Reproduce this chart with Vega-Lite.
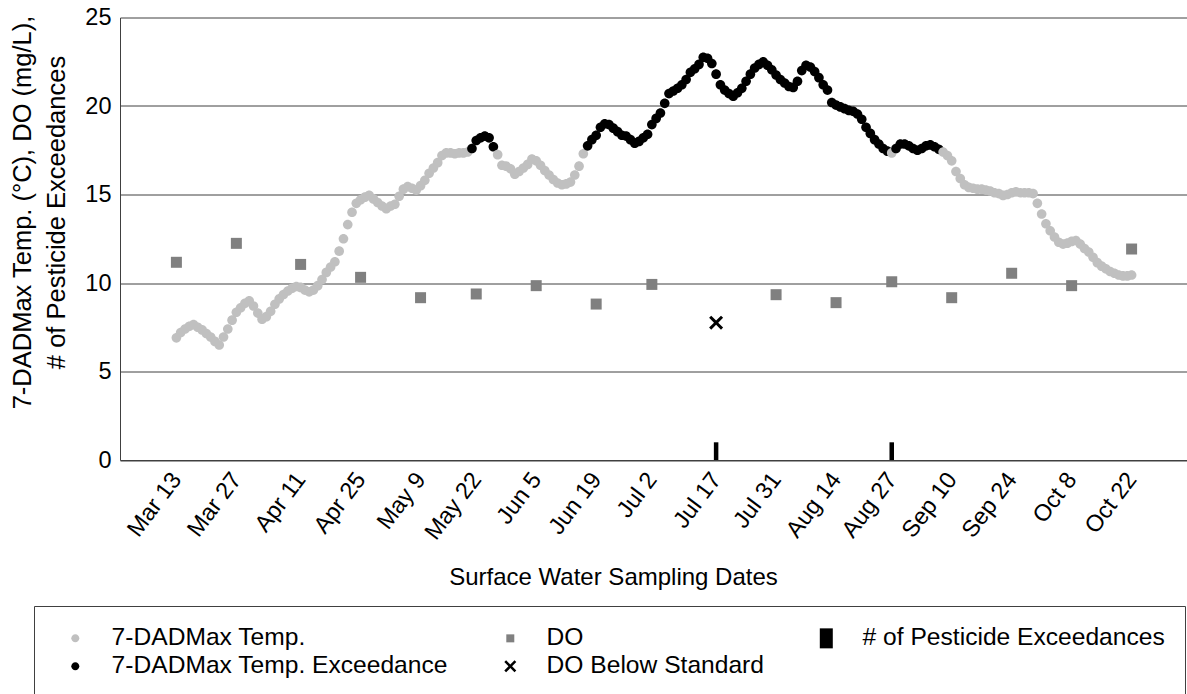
{
  "$schema": "https://vega.github.io/schema/vega-lite/v6.json",
  "width": 1068,
  "height": 442.5,
  "autosize": "none",
  "padding": {"left": 120, "top": 17.5, "right": 0, "bottom": 234},
  "background": "white",
  "config": {
    "view": {"stroke": null},
    "font": "Liberation Sans",
    "axis": {"labelFont": "Liberation Sans", "titleFont": "Liberation Sans", "labelColor": "black", "titleColor": "black", "titleFontWeight": "normal", "domainColor": "#404040", "gridColor": "#404040", "ticks": false, "tickSize": 0},
    "legend": {
      "orient": "none", "direction": "horizontal", "legendX": -86, "legendY": 588.5, "columns": 3, "columnPadding": 41, "rowPadding": 3, "padding": 20,
      "strokeColor": "#404040", "labelFont": "Liberation Sans", "labelFontSize": 24.6, "labelColor": "black", "labelLimit": 600,
      "labelOffset": 24, "symbolSize": 400, "symbolOffset": 9, "symbolStrokeWidth": 0, "symbolOpacity": 1
    }
  },
  "datasets": {
    "temp": [
      {"date":"2019-03-13","v":6.9,"s":"7-DADMax Temp."},
      {"date":"2019-03-14","v":7.2,"s":"7-DADMax Temp."},
      {"date":"2019-03-15","v":7.4,"s":"7-DADMax Temp."},
      {"date":"2019-03-16","v":7.55,"s":"7-DADMax Temp."},
      {"date":"2019-03-17","v":7.65,"s":"7-DADMax Temp."},
      {"date":"2019-03-18","v":7.5,"s":"7-DADMax Temp."},
      {"date":"2019-03-19","v":7.35,"s":"7-DADMax Temp."},
      {"date":"2019-03-20","v":7.15,"s":"7-DADMax Temp."},
      {"date":"2019-03-21","v":6.95,"s":"7-DADMax Temp."},
      {"date":"2019-03-22","v":6.7,"s":"7-DADMax Temp."},
      {"date":"2019-03-23","v":6.5,"s":"7-DADMax Temp."},
      {"date":"2019-03-24","v":6.95,"s":"7-DADMax Temp."},
      {"date":"2019-03-25","v":7.4,"s":"7-DADMax Temp."},
      {"date":"2019-03-26","v":7.9,"s":"7-DADMax Temp."},
      {"date":"2019-03-27","v":8.35,"s":"7-DADMax Temp."},
      {"date":"2019-03-28","v":8.6,"s":"7-DADMax Temp."},
      {"date":"2019-03-29","v":8.85,"s":"7-DADMax Temp."},
      {"date":"2019-03-30","v":9.0,"s":"7-DADMax Temp."},
      {"date":"2019-03-31","v":8.7,"s":"7-DADMax Temp."},
      {"date":"2019-04-01","v":8.3,"s":"7-DADMax Temp."},
      {"date":"2019-04-02","v":7.95,"s":"7-DADMax Temp."},
      {"date":"2019-04-03","v":8.1,"s":"7-DADMax Temp."},
      {"date":"2019-04-04","v":8.4,"s":"7-DADMax Temp."},
      {"date":"2019-04-05","v":8.8,"s":"7-DADMax Temp."},
      {"date":"2019-04-06","v":9.1,"s":"7-DADMax Temp."},
      {"date":"2019-04-07","v":9.35,"s":"7-DADMax Temp."},
      {"date":"2019-04-08","v":9.55,"s":"7-DADMax Temp."},
      {"date":"2019-04-09","v":9.7,"s":"7-DADMax Temp."},
      {"date":"2019-04-10","v":9.8,"s":"7-DADMax Temp."},
      {"date":"2019-04-11","v":9.75,"s":"7-DADMax Temp."},
      {"date":"2019-04-12","v":9.6,"s":"7-DADMax Temp."},
      {"date":"2019-04-13","v":9.5,"s":"7-DADMax Temp."},
      {"date":"2019-04-14","v":9.6,"s":"7-DADMax Temp."},
      {"date":"2019-04-15","v":9.85,"s":"7-DADMax Temp."},
      {"date":"2019-04-16","v":10.2,"s":"7-DADMax Temp."},
      {"date":"2019-04-17","v":10.6,"s":"7-DADMax Temp."},
      {"date":"2019-04-18","v":10.9,"s":"7-DADMax Temp."},
      {"date":"2019-04-19","v":11.2,"s":"7-DADMax Temp."},
      {"date":"2019-04-20","v":11.8,"s":"7-DADMax Temp."},
      {"date":"2019-04-21","v":12.5,"s":"7-DADMax Temp."},
      {"date":"2019-04-22","v":13.3,"s":"7-DADMax Temp."},
      {"date":"2019-04-23","v":14.0,"s":"7-DADMax Temp."},
      {"date":"2019-04-24","v":14.5,"s":"7-DADMax Temp."},
      {"date":"2019-04-25","v":14.7,"s":"7-DADMax Temp."},
      {"date":"2019-04-26","v":14.85,"s":"7-DADMax Temp."},
      {"date":"2019-04-27","v":14.95,"s":"7-DADMax Temp."},
      {"date":"2019-04-28","v":14.75,"s":"7-DADMax Temp."},
      {"date":"2019-04-29","v":14.55,"s":"7-DADMax Temp."},
      {"date":"2019-04-30","v":14.35,"s":"7-DADMax Temp."},
      {"date":"2019-05-01","v":14.2,"s":"7-DADMax Temp."},
      {"date":"2019-05-02","v":14.35,"s":"7-DADMax Temp."},
      {"date":"2019-05-03","v":14.45,"s":"7-DADMax Temp."},
      {"date":"2019-05-04","v":14.9,"s":"7-DADMax Temp."},
      {"date":"2019-05-05","v":15.3,"s":"7-DADMax Temp."},
      {"date":"2019-05-06","v":15.45,"s":"7-DADMax Temp."},
      {"date":"2019-05-07","v":15.35,"s":"7-DADMax Temp."},
      {"date":"2019-05-08","v":15.25,"s":"7-DADMax Temp."},
      {"date":"2019-05-09","v":15.5,"s":"7-DADMax Temp."},
      {"date":"2019-05-10","v":15.8,"s":"7-DADMax Temp."},
      {"date":"2019-05-11","v":16.2,"s":"7-DADMax Temp."},
      {"date":"2019-05-12","v":16.5,"s":"7-DADMax Temp."},
      {"date":"2019-05-13","v":16.8,"s":"7-DADMax Temp."},
      {"date":"2019-05-14","v":17.2,"s":"7-DADMax Temp."},
      {"date":"2019-05-15","v":17.35,"s":"7-DADMax Temp."},
      {"date":"2019-05-16","v":17.35,"s":"7-DADMax Temp."},
      {"date":"2019-05-17","v":17.3,"s":"7-DADMax Temp."},
      {"date":"2019-05-18","v":17.35,"s":"7-DADMax Temp."},
      {"date":"2019-05-19","v":17.35,"s":"7-DADMax Temp."},
      {"date":"2019-05-20","v":17.4,"s":"7-DADMax Temp."},
      {"date":"2019-05-21","v":17.6,"s":"7-DADMax Temp. Exceedance"},
      {"date":"2019-05-22","v":18.05,"s":"7-DADMax Temp. Exceedance"},
      {"date":"2019-05-23","v":18.2,"s":"7-DADMax Temp. Exceedance"},
      {"date":"2019-05-24","v":18.3,"s":"7-DADMax Temp. Exceedance"},
      {"date":"2019-05-25","v":18.2,"s":"7-DADMax Temp. Exceedance"},
      {"date":"2019-05-26","v":17.7,"s":"7-DADMax Temp. Exceedance"},
      {"date":"2019-05-27","v":17.25,"s":"7-DADMax Temp."},
      {"date":"2019-05-28","v":16.65,"s":"7-DADMax Temp."},
      {"date":"2019-05-29","v":16.6,"s":"7-DADMax Temp."},
      {"date":"2019-05-30","v":16.45,"s":"7-DADMax Temp."},
      {"date":"2019-05-31","v":16.15,"s":"7-DADMax Temp."},
      {"date":"2019-06-01","v":16.3,"s":"7-DADMax Temp."},
      {"date":"2019-06-02","v":16.5,"s":"7-DADMax Temp."},
      {"date":"2019-06-03","v":16.7,"s":"7-DADMax Temp."},
      {"date":"2019-06-04","v":17.0,"s":"7-DADMax Temp."},
      {"date":"2019-06-05","v":16.9,"s":"7-DADMax Temp."},
      {"date":"2019-06-06","v":16.65,"s":"7-DADMax Temp."},
      {"date":"2019-06-07","v":16.35,"s":"7-DADMax Temp."},
      {"date":"2019-06-08","v":16.1,"s":"7-DADMax Temp."},
      {"date":"2019-06-09","v":15.85,"s":"7-DADMax Temp."},
      {"date":"2019-06-10","v":15.65,"s":"7-DADMax Temp."},
      {"date":"2019-06-11","v":15.55,"s":"7-DADMax Temp."},
      {"date":"2019-06-12","v":15.6,"s":"7-DADMax Temp."},
      {"date":"2019-06-13","v":15.7,"s":"7-DADMax Temp."},
      {"date":"2019-06-14","v":16.1,"s":"7-DADMax Temp."},
      {"date":"2019-06-15","v":16.6,"s":"7-DADMax Temp."},
      {"date":"2019-06-16","v":17.3,"s":"7-DADMax Temp."},
      {"date":"2019-06-17","v":17.75,"s":"7-DADMax Temp. Exceedance"},
      {"date":"2019-06-18","v":18.1,"s":"7-DADMax Temp. Exceedance"},
      {"date":"2019-06-19","v":18.35,"s":"7-DADMax Temp. Exceedance"},
      {"date":"2019-06-20","v":18.8,"s":"7-DADMax Temp. Exceedance"},
      {"date":"2019-06-21","v":19.0,"s":"7-DADMax Temp. Exceedance"},
      {"date":"2019-06-22","v":18.95,"s":"7-DADMax Temp. Exceedance"},
      {"date":"2019-06-23","v":18.75,"s":"7-DADMax Temp. Exceedance"},
      {"date":"2019-06-24","v":18.55,"s":"7-DADMax Temp. Exceedance"},
      {"date":"2019-06-25","v":18.35,"s":"7-DADMax Temp. Exceedance"},
      {"date":"2019-06-26","v":18.3,"s":"7-DADMax Temp. Exceedance"},
      {"date":"2019-06-27","v":18.1,"s":"7-DADMax Temp. Exceedance"},
      {"date":"2019-06-28","v":17.9,"s":"7-DADMax Temp. Exceedance"},
      {"date":"2019-06-29","v":18.0,"s":"7-DADMax Temp. Exceedance"},
      {"date":"2019-06-30","v":18.2,"s":"7-DADMax Temp. Exceedance"},
      {"date":"2019-07-01","v":18.4,"s":"7-DADMax Temp. Exceedance"},
      {"date":"2019-07-02","v":18.95,"s":"7-DADMax Temp. Exceedance"},
      {"date":"2019-07-03","v":19.3,"s":"7-DADMax Temp. Exceedance"},
      {"date":"2019-07-04","v":19.6,"s":"7-DADMax Temp. Exceedance"},
      {"date":"2019-07-05","v":20.15,"s":"7-DADMax Temp. Exceedance"},
      {"date":"2019-07-06","v":20.7,"s":"7-DADMax Temp. Exceedance"},
      {"date":"2019-07-07","v":20.85,"s":"7-DADMax Temp. Exceedance"},
      {"date":"2019-07-08","v":21.0,"s":"7-DADMax Temp. Exceedance"},
      {"date":"2019-07-09","v":21.2,"s":"7-DADMax Temp. Exceedance"},
      {"date":"2019-07-10","v":21.5,"s":"7-DADMax Temp. Exceedance"},
      {"date":"2019-07-11","v":21.9,"s":"7-DADMax Temp. Exceedance"},
      {"date":"2019-07-12","v":22.1,"s":"7-DADMax Temp. Exceedance"},
      {"date":"2019-07-13","v":22.35,"s":"7-DADMax Temp. Exceedance"},
      {"date":"2019-07-14","v":22.75,"s":"7-DADMax Temp. Exceedance"},
      {"date":"2019-07-15","v":22.7,"s":"7-DADMax Temp. Exceedance"},
      {"date":"2019-07-16","v":22.4,"s":"7-DADMax Temp. Exceedance"},
      {"date":"2019-07-17","v":21.8,"s":"7-DADMax Temp. Exceedance"},
      {"date":"2019-07-18","v":21.2,"s":"7-DADMax Temp. Exceedance"},
      {"date":"2019-07-19","v":20.9,"s":"7-DADMax Temp. Exceedance"},
      {"date":"2019-07-20","v":20.7,"s":"7-DADMax Temp. Exceedance"},
      {"date":"2019-07-21","v":20.55,"s":"7-DADMax Temp. Exceedance"},
      {"date":"2019-07-22","v":20.75,"s":"7-DADMax Temp. Exceedance"},
      {"date":"2019-07-23","v":21.0,"s":"7-DADMax Temp. Exceedance"},
      {"date":"2019-07-24","v":21.4,"s":"7-DADMax Temp. Exceedance"},
      {"date":"2019-07-25","v":21.8,"s":"7-DADMax Temp. Exceedance"},
      {"date":"2019-07-26","v":22.15,"s":"7-DADMax Temp. Exceedance"},
      {"date":"2019-07-27","v":22.35,"s":"7-DADMax Temp. Exceedance"},
      {"date":"2019-07-28","v":22.5,"s":"7-DADMax Temp. Exceedance"},
      {"date":"2019-07-29","v":22.3,"s":"7-DADMax Temp. Exceedance"},
      {"date":"2019-07-30","v":22.05,"s":"7-DADMax Temp. Exceedance"},
      {"date":"2019-07-31","v":21.75,"s":"7-DADMax Temp. Exceedance"},
      {"date":"2019-08-01","v":21.5,"s":"7-DADMax Temp. Exceedance"},
      {"date":"2019-08-02","v":21.3,"s":"7-DADMax Temp. Exceedance"},
      {"date":"2019-08-03","v":21.1,"s":"7-DADMax Temp. Exceedance"},
      {"date":"2019-08-04","v":21.05,"s":"7-DADMax Temp. Exceedance"},
      {"date":"2019-08-05","v":21.4,"s":"7-DADMax Temp. Exceedance"},
      {"date":"2019-08-06","v":22.0,"s":"7-DADMax Temp. Exceedance"},
      {"date":"2019-08-07","v":22.3,"s":"7-DADMax Temp. Exceedance"},
      {"date":"2019-08-08","v":22.2,"s":"7-DADMax Temp. Exceedance"},
      {"date":"2019-08-09","v":21.95,"s":"7-DADMax Temp. Exceedance"},
      {"date":"2019-08-10","v":21.6,"s":"7-DADMax Temp. Exceedance"},
      {"date":"2019-08-11","v":21.2,"s":"7-DADMax Temp. Exceedance"},
      {"date":"2019-08-12","v":20.9,"s":"7-DADMax Temp. Exceedance"},
      {"date":"2019-08-13","v":20.2,"s":"7-DADMax Temp. Exceedance"},
      {"date":"2019-08-14","v":20.05,"s":"7-DADMax Temp. Exceedance"},
      {"date":"2019-08-15","v":19.95,"s":"7-DADMax Temp. Exceedance"},
      {"date":"2019-08-16","v":19.85,"s":"7-DADMax Temp. Exceedance"},
      {"date":"2019-08-17","v":19.75,"s":"7-DADMax Temp. Exceedance"},
      {"date":"2019-08-18","v":19.7,"s":"7-DADMax Temp. Exceedance"},
      {"date":"2019-08-19","v":19.55,"s":"7-DADMax Temp. Exceedance"},
      {"date":"2019-08-20","v":19.25,"s":"7-DADMax Temp. Exceedance"},
      {"date":"2019-08-21","v":18.8,"s":"7-DADMax Temp. Exceedance"},
      {"date":"2019-08-22","v":18.45,"s":"7-DADMax Temp. Exceedance"},
      {"date":"2019-08-23","v":18.1,"s":"7-DADMax Temp. Exceedance"},
      {"date":"2019-08-24","v":17.85,"s":"7-DADMax Temp. Exceedance"},
      {"date":"2019-08-25","v":17.6,"s":"7-DADMax Temp. Exceedance"},
      {"date":"2019-08-26","v":17.45,"s":"7-DADMax Temp. Exceedance"},
      {"date":"2019-08-27","v":17.35,"s":"7-DADMax Temp."},
      {"date":"2019-08-28","v":17.6,"s":"7-DADMax Temp. Exceedance"},
      {"date":"2019-08-29","v":17.85,"s":"7-DADMax Temp. Exceedance"},
      {"date":"2019-08-30","v":17.85,"s":"7-DADMax Temp. Exceedance"},
      {"date":"2019-08-31","v":17.75,"s":"7-DADMax Temp. Exceedance"},
      {"date":"2019-09-01","v":17.6,"s":"7-DADMax Temp. Exceedance"},
      {"date":"2019-09-02","v":17.5,"s":"7-DADMax Temp. Exceedance"},
      {"date":"2019-09-03","v":17.6,"s":"7-DADMax Temp. Exceedance"},
      {"date":"2019-09-04","v":17.75,"s":"7-DADMax Temp. Exceedance"},
      {"date":"2019-09-05","v":17.8,"s":"7-DADMax Temp. Exceedance"},
      {"date":"2019-09-06","v":17.7,"s":"7-DADMax Temp. Exceedance"},
      {"date":"2019-09-07","v":17.55,"s":"7-DADMax Temp. Exceedance"},
      {"date":"2019-09-08","v":17.4,"s":"7-DADMax Temp."},
      {"date":"2019-09-09","v":17.2,"s":"7-DADMax Temp."},
      {"date":"2019-09-10","v":16.9,"s":"7-DADMax Temp."},
      {"date":"2019-09-11","v":16.3,"s":"7-DADMax Temp."},
      {"date":"2019-09-12","v":15.9,"s":"7-DADMax Temp."},
      {"date":"2019-09-13","v":15.55,"s":"7-DADMax Temp."},
      {"date":"2019-09-14","v":15.4,"s":"7-DADMax Temp."},
      {"date":"2019-09-15","v":15.35,"s":"7-DADMax Temp."},
      {"date":"2019-09-16","v":15.3,"s":"7-DADMax Temp."},
      {"date":"2019-09-17","v":15.3,"s":"7-DADMax Temp."},
      {"date":"2019-09-18","v":15.25,"s":"7-DADMax Temp."},
      {"date":"2019-09-19","v":15.2,"s":"7-DADMax Temp."},
      {"date":"2019-09-20","v":15.1,"s":"7-DADMax Temp."},
      {"date":"2019-09-21","v":15.05,"s":"7-DADMax Temp."},
      {"date":"2019-09-22","v":14.95,"s":"7-DADMax Temp."},
      {"date":"2019-09-23","v":15.0,"s":"7-DADMax Temp."},
      {"date":"2019-09-24","v":15.1,"s":"7-DADMax Temp."},
      {"date":"2019-09-25","v":15.15,"s":"7-DADMax Temp."},
      {"date":"2019-09-26","v":15.1,"s":"7-DADMax Temp."},
      {"date":"2019-09-27","v":15.1,"s":"7-DADMax Temp."},
      {"date":"2019-09-28","v":15.1,"s":"7-DADMax Temp."},
      {"date":"2019-09-29","v":15.05,"s":"7-DADMax Temp."},
      {"date":"2019-09-30","v":14.5,"s":"7-DADMax Temp."},
      {"date":"2019-10-01","v":13.9,"s":"7-DADMax Temp."},
      {"date":"2019-10-02","v":13.35,"s":"7-DADMax Temp."},
      {"date":"2019-10-03","v":12.95,"s":"7-DADMax Temp."},
      {"date":"2019-10-04","v":12.6,"s":"7-DADMax Temp."},
      {"date":"2019-10-05","v":12.3,"s":"7-DADMax Temp."},
      {"date":"2019-10-06","v":12.2,"s":"7-DADMax Temp."},
      {"date":"2019-10-07","v":12.25,"s":"7-DADMax Temp."},
      {"date":"2019-10-08","v":12.35,"s":"7-DADMax Temp."},
      {"date":"2019-10-09","v":12.4,"s":"7-DADMax Temp."},
      {"date":"2019-10-10","v":12.2,"s":"7-DADMax Temp."},
      {"date":"2019-10-11","v":11.95,"s":"7-DADMax Temp."},
      {"date":"2019-10-12","v":11.75,"s":"7-DADMax Temp."},
      {"date":"2019-10-13","v":11.45,"s":"7-DADMax Temp."},
      {"date":"2019-10-14","v":11.15,"s":"7-DADMax Temp."},
      {"date":"2019-10-15","v":10.95,"s":"7-DADMax Temp."},
      {"date":"2019-10-16","v":10.8,"s":"7-DADMax Temp."},
      {"date":"2019-10-17","v":10.65,"s":"7-DADMax Temp."},
      {"date":"2019-10-18","v":10.55,"s":"7-DADMax Temp."},
      {"date":"2019-10-19","v":10.45,"s":"7-DADMax Temp."},
      {"date":"2019-10-20","v":10.4,"s":"7-DADMax Temp."},
      {"date":"2019-10-21","v":10.4,"s":"7-DADMax Temp."},
      {"date":"2019-10-22","v":10.45,"s":"7-DADMax Temp."}
    ],
    "do": [
      {"date":"2019-03-13","v":11.17,"s":"DO"},
      {"date":"2019-03-27","v":12.24,"s":"DO"},
      {"date":"2019-04-11","v":11.05,"s":"DO"},
      {"date":"2019-04-25","v":10.32,"s":"DO"},
      {"date":"2019-05-09","v":9.17,"s":"DO"},
      {"date":"2019-05-22","v":9.38,"s":"DO"},
      {"date":"2019-06-05","v":9.85,"s":"DO"},
      {"date":"2019-06-19","v":8.81,"s":"DO"},
      {"date":"2019-07-02","v":9.92,"s":"DO"},
      {"date":"2019-07-17","v":7.76,"s":"DO Below Standard"},
      {"date":"2019-07-31","v":9.34,"s":"DO"},
      {"date":"2019-08-14","v":8.89,"s":"DO"},
      {"date":"2019-08-27","v":10.07,"s":"DO"},
      {"date":"2019-09-10","v":9.17,"s":"DO"},
      {"date":"2019-09-24","v":10.55,"s":"DO"},
      {"date":"2019-10-08","v":9.85,"s":"DO"},
      {"date":"2019-10-22","v":11.92,"s":"DO"}
    ],
    "pest": [
      {"date":"2019-07-17","v":1,"s":"# of Pesticide Exceedances"},
      {"date":"2019-08-27","v":1,"s":"# of Pesticide Exceedances"}
    ]
  },
  "encoding": {
    "x": {
      "field": "date", "type": "temporal",
      "scale": {"type": "utc", "domain": [{"year": 2019, "month": 3, "date": 1, "utc": true}, {"year": 2019, "month": 11, "date": 3, "utc": true}], "nice": false},
      "axis": {
        "title": "Surface Water Sampling Dates", "titleFontSize": 24, "titleX": 493, "titleY": 117, "titleBaseline": "middle", "titleAlign": "center",
        "values": [
          {"year":2019,"month":3,"date":13,"utc":true},{"year":2019,"month":3,"date":27,"utc":true},{"year":2019,"month":4,"date":11,"utc":true},
          {"year":2019,"month":4,"date":25,"utc":true},{"year":2019,"month":5,"date":9,"utc":true},{"year":2019,"month":5,"date":22,"utc":true},
          {"year":2019,"month":6,"date":5,"utc":true},{"year":2019,"month":6,"date":19,"utc":true},{"year":2019,"month":7,"date":2,"utc":true},
          {"year":2019,"month":7,"date":17,"utc":true},{"year":2019,"month":7,"date":31,"utc":true},{"year":2019,"month":8,"date":14,"utc":true},
          {"year":2019,"month":8,"date":27,"utc":true},{"year":2019,"month":9,"date":10,"utc":true},{"year":2019,"month":9,"date":24,"utc":true},
          {"year":2019,"month":10,"date":8,"utc":true},{"year":2019,"month":10,"date":22,"utc":true}
        ],
        "labelExpr": "utcFormat(datum.value, '%b %-d')",
        "labelAngle": -53, "labelAlign": "right", "labelBaseline": "middle", "labelFontSize": 23.5, "labelPadding": 15,
        "grid": false, "labelOverlap": false, "labelFlush": false
      }
    },
    "y": {
      "field": "v", "type": "quantitative",
      "scale": {"domain": [0, 25], "nice": false},
      "axis": {
        "title": ["7-DADMax Temp. (°C), DO (mg/L),", "# of Pesticide Exceedances"],
        "titleFontSize": 25.5, "titleLineHeight": 34, "titleX": -98, "titleY": 194.5, "titleBaseline": "middle", "titleAlign": "center", "titleAngle": -90,
        "values": [0, 5, 10, 15, 20, 25], "labelFontSize": 23.5, "labelPadding": 9, "grid": true, "gridWidth": 1
      }
    },
    "color": {
      "field": "s", "type": "nominal",
      "scale": {
        "domain": ["7-DADMax Temp.", "DO", "# of Pesticide Exceedances", "7-DADMax Temp. Exceedance", "DO Below Standard"],
        "range": ["#c0c0c0", "#808080", "#000000", "#000000", "#000000"]
      },
      "legend": {"title": null}
    }
  },
  "layer": [
    {
      "data": {"name": "pest"},
      "mark": {"type": "bar", "width": 4.5, "opacity": 1}
    },
    {
      "data": {"name": "temp"},
      "mark": {"type": "point", "filled": true, "size": 580, "opacity": 1, "strokeWidth": 0},
      "encoding": {
        "shape": {
          "field": "s", "type": "nominal",
          "scale": {
            "domain": ["7-DADMax Temp.", "DO", "# of Pesticide Exceedances", "7-DADMax Temp. Exceedance", "DO Below Standard"],
            "range": [
              "M0.4,0A0.4,0.4,0,1,1,-0.4,0A0.4,0.4,0,1,1,0.4,0Z",
              "M-0.4,-0.4L0.4,-0.4L0.4,0.4L-0.4,0.4Z",
              "M-0.65,-1L0.65,-1L0.65,1L-0.65,1Z",
              "M0.4,0A0.4,0.4,0,1,1,-0.4,0A0.4,0.4,0,1,1,0.4,0Z",
              "M-0.6,-0.42L-0.42,-0.6L0,-0.18L0.42,-0.6L0.6,-0.42L0.18,0L0.6,0.42L0.42,0.6L0,0.18L-0.42,0.6L-0.6,0.42L-0.18,0Z"
            ]
          },
          "legend": {"title": null}
        }
      }
    },
    {
      "data": {"name": "do"},
      "transform": [{"filter": "datum.s === 'DO'"}],
      "mark": {"type": "point", "filled": true, "size": 756, "opacity": 1, "strokeWidth": 0},
      "encoding": {"shape": {"field": "s", "type": "nominal", "legend": {"title": null}}}
    },
    {
      "data": {"name": "do"},
      "transform": [{"filter": "datum.s === 'DO Below Standard'"}],
      "mark": {"type": "point", "filled": true, "size": 544, "opacity": 1, "strokeWidth": 0},
      "encoding": {"shape": {"field": "s", "type": "nominal", "legend": {"title": null}}}
    }
  ]
}
